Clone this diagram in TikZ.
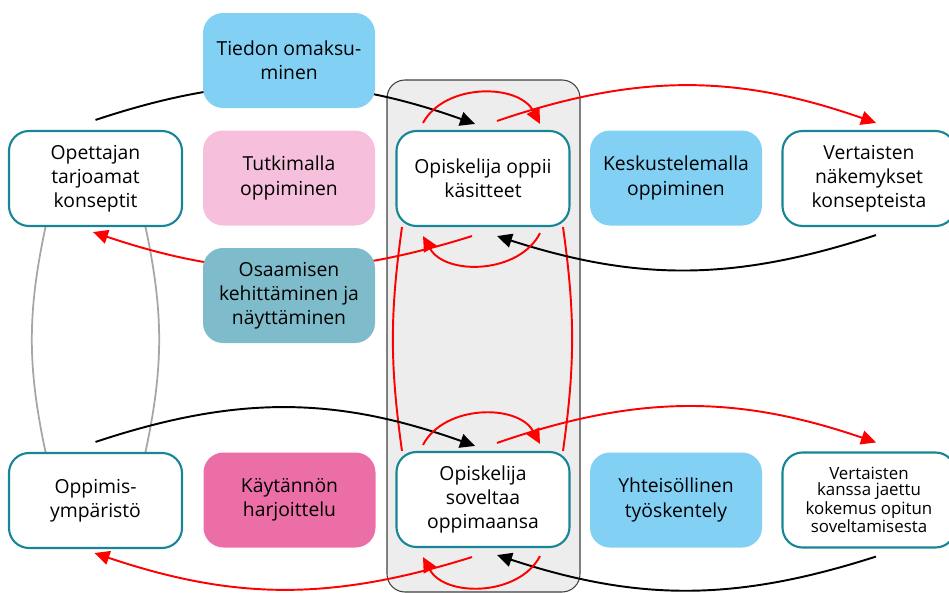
\documentclass[tikz,border=0pt]{standalone}
\usepackage{fontspec}
\setmainfont{Open Sans}
\usetikzlibrary{arrows.meta,backgrounds}

\definecolor{tealline}{RGB}{22,134,150}
\definecolor{skyfill}{RGB}{130,208,244}
\definecolor{rosefill}{RGB}{246,191,220}
\definecolor{petrolfill}{RGB}{127,188,203}
\definecolor{pinkfill}{RGB}{236,110,167}
\definecolor{panelfill}{RGB}{237,237,237}
\definecolor{arcgray}{RGB}{166,166,166}

\begin{document}
\begin{tikzpicture}[>={Triangle[length=8.5pt,width=8pt]},
	box/.style={rectangle, rounded corners=0.4cm, minimum width=3.44cm, minimum height=1.9cm, align=center, inner sep=2pt, font=\fontsize{11}{13.8}\selectfont},
	outlined/.style={box, draw=tealline, line width=1.2pt, fill=white, minimum width=3.46cm},
	blk/.style={->, black, line width=1.1pt},
	rd/.style={->, red, line width=1.1pt},
	rdline/.style={red, line width=1.1pt},
	grayarc/.style={arcgray, line width=1pt}]

	\useasboundingbox (0,0) rectangle (18.98,-11.86);

	% upper row
	\node[outlined] (opettaja) at (1.91,-3.57) {Opettajan\\tarjoamat\\konseptit};
	\node[box, fill=skyfill] (tiedon) at (5.78,-1.21) {Tiedon omaksu-\\minen};
	\node[box, fill=rosefill] (tutkimalla) at (5.78,-3.56) {Tutkimalla\\oppiminen};
	\node[box, fill=petrolfill] (osaaminen) at (5.78,-5.91) {Osaamisen\\kehittäminen ja\\näyttäminen};
	\node[outlined] (oppii) at (9.66,-3.57) {Opiskelija oppii\\käsitteet};
	\node[box, fill=skyfill] (keskustelu) at (13.52,-3.56) {Keskustelemalla\\oppiminen};
	\node[outlined] (vertaiset) at (17.38,-3.57) {Vertaisten\\näkemykset\\konsepteista};

	% lower row
	\node[outlined] (ymparisto) at (1.91,-10.01) {Oppimis-\\ympäristö};
	\node[box, fill=pinkfill] (kaytanto) at (5.79,-10.0) {Käytännön\\harjoittelu};
	\node[outlined] (soveltaa) at (9.66,-9.99) {Opiskelija\\soveltaa\\oppimaansa};
	\node[box, fill=skyfill] (yhteiso) at (13.52,-10.0) {Yhteisöllinen\\työskentely};
	\node[outlined, font=\fontsize{9.6}{9.2}\selectfont] (jaettu) at (17.38,-10.0) {Vertaisten\\kanssa jaettu\\kokemus opitun\\soveltamisesta};

	\begin{scope}[on background layer]
	\draw[fill=panelfill, draw=black!75, line width=0.6pt, rounded corners=0.36cm] (7.74,-1.6) rectangle (11.6,-11.84);

	\draw[grayarc] ([xshift=-1cm]opettaja.south) to[bend right=12] ([xshift=-1cm]ymparisto.north);
	\draw[grayarc] ([xshift=1cm]opettaja.south) to[bend left=12] ([xshift=1cm]ymparisto.north);
	\draw[rdline] ([xshift=-1.62cm]oppii.south) to[bend right=8] ([xshift=-1.62cm]soveltaa.north);
	\draw[rdline] ([xshift=1.6cm]oppii.south) to[bend left=8] ([xshift=1.6cm]soveltaa.north);

	% upper arrows
	\draw[blk] ([yshift=0.2cm]opettaja.north) to[bend left=19] ([xshift=-0.16cm,yshift=0.12cm]oppii.north);
	\draw[rd] ([xshift=0.28cm,yshift=0.18cm]oppii.north) to[bend left=19] ([xshift=0.14cm,yshift=0.14cm]vertaiset.north);
	\draw[blk] ([xshift=0.14cm,yshift=-0.16cm]vertaiset.south) to[bend left=18] ([xshift=0.28cm,yshift=-0.18cm]oppii.south);
	\draw[rd] ([xshift=-0.22cm,yshift=-0.18cm]oppii.south) to[bend left=18] ([xshift=-0.05cm,yshift=-0.1cm]opettaja.south);
	\draw[rd] ([xshift=-1.2cm,yshift=0.14cm]oppii.north) to[bend left=62] ([xshift=1.14cm,yshift=0.12cm]oppii.north);
	\draw[rd] ([xshift=1.14cm,yshift=-0.12cm]oppii.south) to[bend left=62] ([xshift=-1.2cm,yshift=-0.18cm]oppii.south);

	% lower arrows
	\draw[blk] ([yshift=0.2cm]ymparisto.north) to[bend left=19] ([xshift=-0.16cm,yshift=0.1cm]soveltaa.north);
	\draw[rd] ([xshift=0.28cm,yshift=0.16cm]soveltaa.north) to[bend left=19] ([xshift=0.14cm,yshift=0.18cm]jaettu.north);
	\draw[blk] ([xshift=0.14cm,yshift=-0.16cm]jaettu.south) to[bend left=18] ([xshift=0.28cm,yshift=-0.14cm]soveltaa.south);
	\draw[rd] ([xshift=-0.22cm,yshift=-0.18cm]soveltaa.south) to[bend left=18] ([xshift=-0.02cm,yshift=-0.08cm]ymparisto.south);
	\draw[rd] ([xshift=-1.2cm,yshift=0.12cm]soveltaa.north) to[bend left=62] ([xshift=1.14cm,yshift=0.14cm]soveltaa.north);
	\draw[rd] ([xshift=1.14cm,yshift=-0.16cm]soveltaa.south) to[bend left=62] ([xshift=-1.2cm,yshift=-0.18cm]soveltaa.south);
	\end{scope}
\end{tikzpicture}
\end{document}
